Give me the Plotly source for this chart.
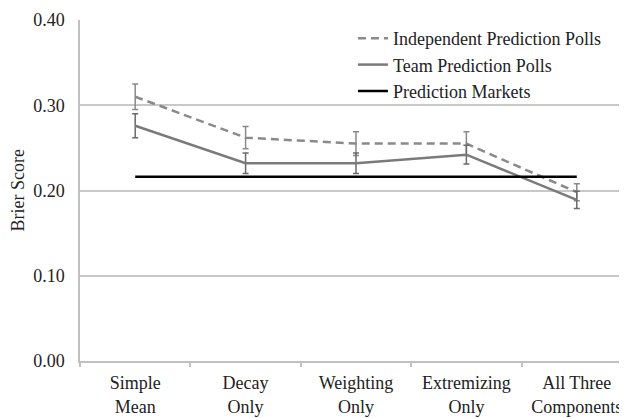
import plotly.graph_objects as go

categories = ["Simple<br>Mean", "Decay<br>Only", "Weighting<br>Only", "Extremizing<br>Only", "All Three<br>Components"]
independent = [0.310, 0.262, 0.255, 0.255, 0.198]
independent_err = [0.015, 0.013, 0.014, 0.014, 0.010]
team = [0.276, 0.232, 0.232, 0.242, 0.189]
team_err = [0.014, 0.012, 0.012, 0.011, 0.010]
market = 0.216
y_ticks = [0.0, 0.1, 0.2, 0.3, 0.4]

font = "Liberation Serif"
fig = go.Figure()
fig.add_trace(go.Scatter(
    x=categories, y=independent, name="Independent Prediction Polls", mode="lines",
    line=dict(color="#8a8a8a", width=2.5, dash="8px,5px"),
    error_y=dict(type="data", array=independent_err, color="#8a8a8a", thickness=1.5, width=3),
))
fig.add_trace(go.Scatter(
    x=categories, y=team, name="Team Prediction Polls", mode="lines",
    line=dict(color="#7a7a7a", width=2.5),
    error_y=dict(type="data", array=team_err, color="#6a6a6a", thickness=1.5, width=3),
))
fig.add_trace(go.Scatter(
    x=categories, y=[market] * len(categories), name="Prediction Markets", mode="lines",
    line=dict(color="#000000", width=2.5),
))

fig.update_layout(
    width=627, height=418,
    margin=dict(l=72, r=8, t=12, b=65, autoexpand=False),
    paper_bgcolor="white", plot_bgcolor="white",
    font=dict(family=font, size=18, color="#222222"),
    showlegend=True,
    legend=dict(x=0.499, y=1.0, xanchor="left", yanchor="top",
                font=dict(family=font, size=18, color="#222222"),
                bgcolor="rgba(0,0,0,0)"),
    xaxis=dict(
        type="category", range=[-0.5, 4.455], automargin=False,
        showline=True, linecolor="#c0c0c0", linewidth=1.5,
        showgrid=False, tickson="boundaries", ticks="outside",
        ticklen=4, tickcolor="#c0c0c0", tickwidth=1.5,
        ticklabelstandoff=5,
        tickfont=dict(family=font, size=18, color="#222222"),
    ),
    yaxis=dict(
        range=[0, 0.4], tickvals=y_ticks, tickformat=".2f", automargin=False,
        showline=True, linecolor="#c0c0c0", linewidth=1.5,
        showgrid=True, gridcolor="#c8c8c8", gridwidth=1.5,
        zeroline=False, ticks="", ticklabelstandoff=10,
        tickfont=dict(family=font, size=18, color="#222222"),
    ),
    annotations=[dict(
        text="Brier Score", xref="paper", yref="paper", x=-0.115, y=0.5,
        xanchor="center", yanchor="middle", textangle=-90, showarrow=False,
        font=dict(family=font, size=18, color="#222222"),
    )],
)
fig.write_html("out.html")
